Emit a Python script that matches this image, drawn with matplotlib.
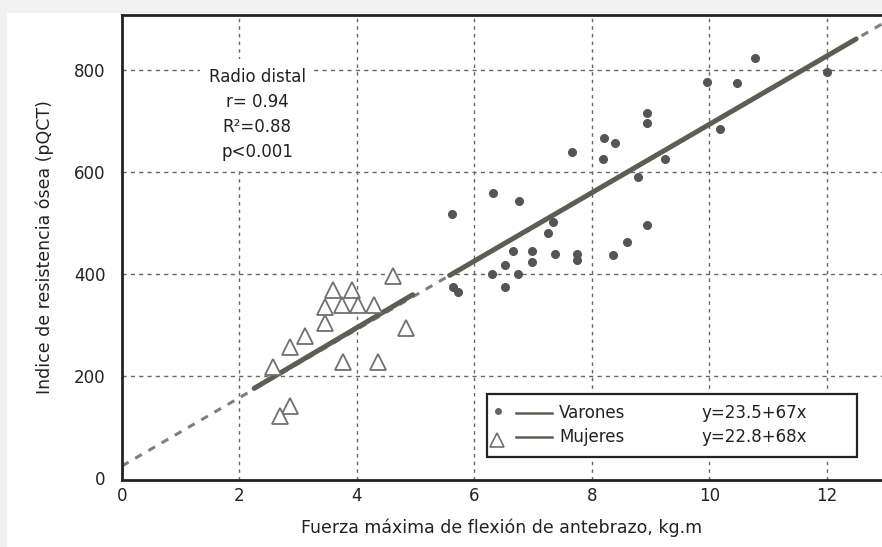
import matplotlib.pyplot as plt
import numpy as np
from matplotlib.lines import Line2D
from matplotlib.patches import Rectangle

# Varones (puntos rellenos)
varones_x = [5.62, 5.63, 5.72, 6.31, 6.76, 7.25, 7.34, 6.66, 6.98, 6.98, 7.37,
             7.74, 7.74, 8.36, 8.60, 8.94, 6.52, 6.30, 6.74, 6.52, 8.19, 8.78,
             9.24, 7.66, 8.20, 8.39, 8.94, 8.94, 10.18, 9.96, 10.47, 10.77, 12.00]
varones_y = [518, 375, 365, 559, 543, 480, 502, 445, 445, 424, 439,
             439, 427, 437, 463, 496, 418, 400, 400, 375, 626, 590,
             626, 639, 667, 657, 716, 696, 684, 777, 775, 823, 796]

# Mujeres (triangulos)
mujeres_x = [4.61, 3.59, 3.91, 3.46, 3.74, 4.02, 4.29, 3.46, 3.11, 2.86,
             2.57, 4.83, 3.76, 4.36, 2.86, 2.69]
mujeres_y = [396, 369, 369, 336, 339, 339, 339, 304, 278, 257,
             218, 294, 227, 227, 141, 122]

# rectas de regresion: (a, b) en y = a + b*x, y tramo dibujado
varones_fit = (23.5, 67)
mujeres_fit = (22.8, 68)
varones_range = (5.58, 12.5)
mujeres_range = (2.25, 4.95)

xticks = [0, 2, 4, 6, 8, 10, 12]
yticks = [0, 200, 400, 600, 800]
stats_text = "Radio distal\nr= 0.94\nR²=0.88\np<0.001"

plt.rcParams['font.family'] = 'DejaVu Sans'

fig = plt.figure(figsize=(8.82, 5.47), dpi=100)
fig.patch.set_facecolor('white')
# franjas grises del borde de la imagen
fig.patches.append(Rectangle((0, 1 - 13 / 547), 1, 13 / 547, transform=fig.transFigure,
                             facecolor='#f1f1f1', edgecolor='none', zorder=0))
fig.patches.append(Rectangle((0, 0), 7 / 882, 1, transform=fig.transFigure,
                             facecolor='#f1f1f1', edgecolor='none', zorder=0))

ax = fig.add_axes([122 / 882, 67 / 547, 760 / 882, 465 / 547])
ax.set_xlim(0, 12.94)
ax.set_ylim(-4, 908)

# rejilla
for xv in xticks[1:]:
    ax.axvline(xv, color='#666666', lw=1.0, ls=(0, (2.5, 3)), zorder=1)
for yv in yticks[1:]:
    ax.axhline(yv, color='#666666', lw=1.0, ls=(0, (3, 3)), zorder=1)

# recta extendida (discontinua)
xx = np.array([0, 12.94])
ax.plot(xx, varones_fit[0] + varones_fit[1] * xx, color='#7e7e7e', lw=2.2,
        ls=(0, (2.5, 2.5)), zorder=2)

# tramos continuos
xm = np.array(mujeres_range)
ax.plot(xm, mujeres_fit[0] + mujeres_fit[1] * xm, color='#5b5e52', lw=3.6,
        solid_capstyle='round', zorder=3)
xv_ = np.array(varones_range)
ax.plot(xv_, varones_fit[0] + varones_fit[1] * xv_, color='#5b5e52', lw=3.6,
        solid_capstyle='round', zorder=3)

ax.plot(mujeres_x, mujeres_y, ls='none', marker='^', ms=11, mfc='white',
        mec='#707070', mew=1.3, zorder=4)
ax.plot(varones_x, varones_y, ls='none', marker='o', ms=5.5, mfc='#555555',
        mec='#555555', zorder=4)

ax.set_xticks(xticks)
ax.set_yticks(yticks)
ax.tick_params(length=0, labelsize=12, labelcolor='#222222')
ax.tick_params(axis='y', pad=12)
ax.tick_params(axis='x', pad=5)
for s in ['left', 'top', 'bottom']:
    ax.spines[s].set_linewidth(2)
    ax.spines[s].set_color('#222222')
ax.spines['right'].set_visible(False)

ax.set_xlabel('Fuerza máxima de flexión de antebrazo, kg.m', fontsize=12.5,
              color='#222222', labelpad=10)
ax.set_ylabel('Indice de resistencia ósea (pQCT)', fontsize=12.5,
              color='#222222', labelpad=14)

ax.text(0.178, 0.787, stats_text, transform=ax.transAxes, ha='center',
        va='center', fontsize=12, linespacing=1.5, color='#222222', zorder=5,
        bbox=dict(facecolor='white', edgecolor='none', pad=6))

# leyenda dibujada a mano
ax.add_patch(Rectangle((0.480, 0.049), 0.487, 0.136, transform=ax.transAxes,
                       facecolor='white', edgecolor='#222222', lw=1.6, zorder=5))
rows = [(0.144, 'o', 'Varones', 'y=23.5+67x'), (0.092, '^', 'Mujeres', 'y=22.8+68x')]
for yy, mk, lab, eq in rows:
    if mk == 'o':
        ax.add_line(Line2D([0.495], [yy + 0.004], marker='o', ms=4, mfc='#666666',
                           mec='#666666', transform=ax.transAxes, zorder=6))
    else:
        ax.add_line(Line2D([0.493], [yy - 0.006], marker='^', ms=10, mfc='white',
                           mec='#707070', mew=1.2, transform=ax.transAxes, zorder=6))
    ax.add_line(Line2D([0.518, 0.566], [yy, yy], color='#5b5e52', lw=1.8,
                       transform=ax.transAxes, zorder=6))
    ax.text(0.575, yy, lab, transform=ax.transAxes, ha='left', va='center',
            fontsize=12, color='#222222', zorder=7)
    ax.text(0.762, yy, eq, transform=ax.transAxes, ha='left', va='center',
            fontsize=12, color='#222222', zorder=7)

fig.savefig('out.png', dpi=100)
